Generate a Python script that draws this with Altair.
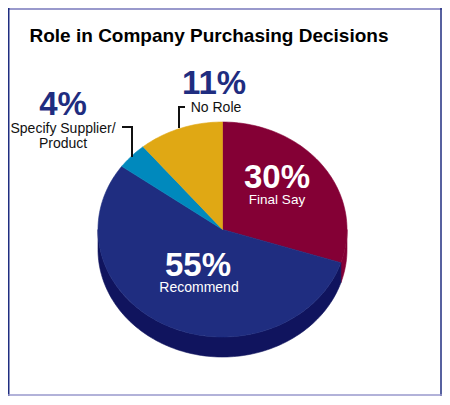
import math
import altair as alt
import pandas as pd

names = ["Final Say", "Recommend", "Specify Supplier/Product", "No Role"]
shares = [30, 55, 4, 11]
colors = ["#840035", "#1f2d80", "#0089bd", "#e0a814"]
side_colors = ["#840035", "#10145e"]

W, H = 434, 388
CX0, CX1 = 90, 339      # plot-pixel span of the ellipse
CY0, CY1 = 114, 329
DEPTH = 20 / 107.5      # extrusion, in ellipse radii

xs = alt.Scale(domain=[-1, 1], range=[CX0, CX1], clamp=False)
ys = alt.Scale(domain=[-1, 1], range=[CY0, CY1], clamp=False)


def arc_pts(a, b, dy=0.0):
    n = max(2, int(abs(b - a) / 1.5) + 1)
    out = []
    for i in range(n + 1):
        t = math.radians(a + (b - a) * i / n)
        out.append((math.sin(t), -math.cos(t) + dy))
    return out


def poly(pts, color):
    pts = pts + [pts[0]]
    df = pd.DataFrame({"x": [p[0] for p in pts], "y": [p[1] for p in pts], "o": range(len(pts))})
    return alt.Chart(df).mark_line(fill=color, stroke=color, strokeWidth=0.6, interpolate="linear", clip=False).encode(
        x=alt.X("x:Q", scale=xs, axis=None),
        y=alt.Y("y:Q", scale=ys, axis=None),
        order="o:Q",
    )


layers = []
# side wall: the visible rim runs from the right extreme (90 deg) to the left extreme (270 deg)
edge = shares[0] * 3.6
layers.append(poly(arc_pts(90, edge) + arc_pts(edge, 90, DEPTH), side_colors[0]))
layers.append(poly(arc_pts(edge, 270) + arc_pts(270, edge, DEPTH), side_colors[1]))

# top face
start = 0.0
for share, col in zip(shares, colors):
    end = start + share * 3.6
    layers.append(poly([(0.0, 0.0)] + arc_pts(start, end), col))
    start = end


def leader(x1, y1, x2=None, y2=None):
    enc = {"x": alt.value(x1), "y": alt.value(y1)}
    if x2 is not None:
        enc["x2"] = alt.value(x2)
    if y2 is not None:
        enc["y2"] = alt.value(y2)
    return alt.Chart(pd.DataFrame({"a": [0]})).mark_rule(color="#111111", strokeWidth=2).encode(**enc)


layers += [
    leader(171, 120, y2=98),
    leader(170, 99, x2=177),
    leader(124, 149, y2=118),
    leader(114, 119, x2=125),
]


def txt(s, x, y, size, color, bold=False):
    return alt.Chart(pd.DataFrame({"t": [s]})).mark_text(
        x=x, y=y, fontSize=size, color=color, font="Liberation Sans",
        fontWeight="bold" if bold else "normal", align="center", baseline="alphabetic",
    ).encode(text="t:N")


NAVY = "#1f2d80"
layers += [
    txt("Role in Company Purchasing Decisions", 201, 34, 19, "#000000", True),
    txt("30%", 269, 180, 33, "#ffffff", True),
    txt("Final Say", 269, 196, 13.5, "#ffffff"),
    txt("55%", 190, 268, 33, "#ffffff", True),
    txt("Recommend", 191, 284, 14, "#ffffff"),
    txt("11%", 206, 86, 33, NAVY, True),
    txt("No Role", 208, 104, 14, "#111111"),
    txt("4%", 55, 107, 33, NAVY, True),
    txt("Specify Supplier/", 55, 125, 14, "#111111"),
    txt("Product", 55, 140, 14, "#111111"),
]


def frame(color, width, **enc):
    return alt.Chart(pd.DataFrame({"a": [0]})).mark_rule(color=color, strokeWidth=width).encode(
        **{k: alt.value(v) for k, v in enc.items()}
    )


layers += [
    frame("#9999cc", 2, x=0, x2=W, y=1),
    frame("#1f2d80", 1.5, x=0.75, y=0, y2=H),
    frame("#1f2d80", 1.5, x=W - 1, y=0, y2=H),
    frame("#9999cc", 1.5, x=0, x2=W, y=H - 1),
]

chart = alt.layer(*layers).properties(
    width=W, height=H, padding=0, autosize=alt.AutoSizeParams(type="none"), background="#ffffff"
).configure_view(stroke=None)

chart.save("out.html", embed_options={"renderer": "svg", "actions": False})
